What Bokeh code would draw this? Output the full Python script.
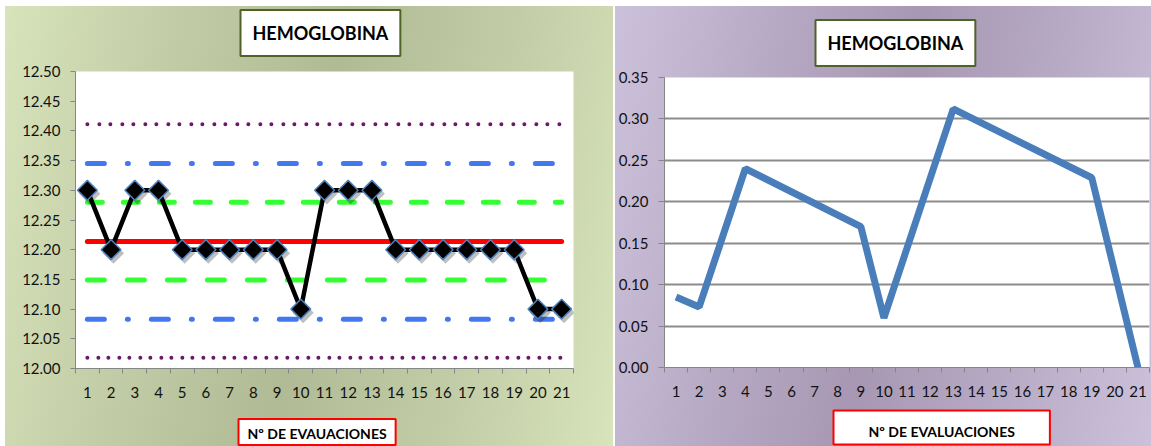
from bokeh.plotting import figure
from bokeh.layouts import row, column
from bokeh.models import FixedTicker, Range1d, ColumnDataSource, Title
from bokeh.transform import dodge
from bokeh.embed import file_html
from bokeh.resources import INLINE

# ---------------- data ----------------
evaluaciones = list(range(1, 22))
hemoglobina = [12.3, 12.2, 12.3, 12.3, 12.2, 12.2, 12.2, 12.2, 12.2, 12.1, 12.3,
               12.3, 12.3, 12.2, 12.2, 12.2, 12.2, 12.2, 12.2, 12.1, 12.1]
media = 12.214
sd1_sup, sd1_inf = 12.280, 12.149
sd2_sup, sd2_inf = 12.345, 12.083
sd3_sup, sd3_inf = 12.411, 12.018
y_ticks_left = [12.00, 12.05, 12.10, 12.15, 12.20, 12.25, 12.30, 12.35, 12.40, 12.45, 12.50]

rango_eval = [1, 2, 4, 9, 10, 13, 19, 21]
rango_movil = [0.085, 0.073, 0.240, 0.170, 0.060, 0.312, 0.229, 0.0]
y_ticks_right = [0.00, 0.05, 0.10, 0.15, 0.20, 0.25, 0.30, 0.35]

FONT = "Lato"
x_ticks = evaluaciones
x_bounds = [i + 0.5 for i in range(0, 22)]


def style_axes(p, yticks, fmt):
    p.xaxis.ticker = FixedTicker(ticks=x_ticks, minor_ticks=x_bounds)
    p.yaxis.ticker = FixedTicker(ticks=yticks, minor_ticks=[])
    p.yaxis.major_label_overrides = {t: fmt.format(t) for t in yticks}
    for ax in (p.xaxis[0], p.yaxis[0]):
        ax.axis_line_color = "#868686"
        ax.axis_line_width = 1
        ax.major_label_text_font = FONT
        ax.major_label_text_font_size = "15px"
        ax.major_label_text_color = "#111111"
    p.xaxis.major_tick_line_color = None
    p.xaxis.major_tick_out = 0
    p.xaxis.major_tick_in = 0
    p.xaxis.minor_tick_line_color = "#868686"
    p.xaxis.minor_tick_out = 5
    p.xaxis.minor_tick_in = 0
    p.xaxis.major_label_standoff = 13
    p.yaxis.major_tick_line_color = "#868686"
    p.yaxis.major_tick_out = 5
    p.yaxis.major_tick_in = 0
    p.yaxis.minor_tick_line_color = None
    p.yaxis.major_label_standoff = 10


def boxed_title(text, size, border, offset, standoff, padding):
    return Title(text=text, align="left", offset=offset, standoff=standoff,
                 text_font=FONT, text_font_style="bold", text_font_size=size,
                 text_color="black", background_fill_color="white",
                 border_line_color=border, border_line_width=2, padding=padding)


# ---------------- left chart ----------------
p1 = figure(frame_width=498, frame_height=297, output_backend="svg", toolbar_location=None,
            x_range=Range1d(0.5, 21.5), y_range=Range1d(12.0, 12.5),
            min_border_left=70, min_border_right=40, min_border_top=0, min_border_bottom=0)
p1.background_fill_color = "white"
p1.border_fill_alpha = 0
p1.outline_line_color = None
p1.grid.visible = False
p1.styles = {"background": "linear-gradient(#ffffff, #ffffff) 0 0 / 100% 14px no-repeat, "
                           "linear-gradient(100deg, #d8e4bc 0%, #c2cca6 25%, #b0ba94 50%, #c2cca6 75%, #d8e4bc 100%)"}
p1.margin = (-8, 2, -16, 5)
style_axes(p1, y_ticks_left, "{:.2f}")

first, last = evaluaciones[0], evaluaciones[-1]
p1.line([first, last], [sd3_sup] * 2, line_color="#6b1a6b", line_width=4,
        line_dash="0 12 0 11", line_cap="round")
p1.line([first, last], [sd3_inf] * 2, line_color="#6b1a6b", line_width=4,
        line_dash="0 11 0 10", line_cap="round")
p1.line([first, last], [sd2_sup] * 2, line_color="#4178f0", line_width=5,
        line_dash="17 23 1 23", line_cap="round")
p1.line([first, last], [sd2_inf] * 2, line_color="#4178f0", line_width=5,
        line_dash="17 23 1 23", line_cap="round")
p1.line([first, last], [sd1_sup] * 2, line_color="#33ff33", line_width=5,
        line_dash="15 21", line_cap="round")
p1.line([first, last], [sd1_inf] * 2, line_color="#33ff33", line_width=5,
        line_dash="17 23", line_cap="round")
p1.line([first, last], [media] * 2, line_color="#ff0000", line_width=5, line_cap="round")

src = ColumnDataSource(dict(x=evaluaciones, y=hemoglobina))
p1.line("x", "y", source=src, line_color="black", line_width=4.5)
p1.scatter(x=dodge("x", 0.1, range=p1.x_range), y=dodge("y", -0.006, range=p1.y_range),
           source=src, marker="square", angle=0.785398, size=15,
           fill_color="black", fill_alpha=0.25, line_color=None)
p1.scatter("x", "y", source=src, marker="square", angle=0.785398, size=14,
           fill_color="black", line_color="#4f81bd", line_width=1.5)

p1.add_layout(boxed_title("HEMOGLOBINA", "18px", "#4f6228", 165, 31, 12), "above")
p1.add_layout(boxed_title("Nº DE EVAUACIONES", "14px", "#ff0000", 163, 33,
                          dict(left=9, right=9, top=6, bottom=3)), "below")

# ---------------- right chart ----------------
p2 = figure(frame_width=485, frame_height=290, output_backend="svg", toolbar_location=None,
            x_range=Range1d(0.5, 21.5), y_range=Range1d(0.0, 0.35),
            min_border_left=48, min_border_right=3, min_border_top=0, min_border_bottom=0)
p2.background_fill_color = "white"
p2.border_fill_alpha = 0
p2.outline_line_color = None
p2.xgrid.visible = False
p2.ygrid.grid_line_color = "#8c8c8c"
p2.ygrid.grid_line_width = 2
p2.ygrid.ticker = FixedTicker(ticks=y_ticks_right)
p2.styles = {"background": "linear-gradient(100deg, #ccc1da 0%, #b8abc6 25%, #a797b3 50%, #b8abc6 75%, #ccc1da 100%)"}
p2.margin = (6, 0, -8, 0)
style_axes(p2, y_ticks_right, "{:.2f}")
p2.yaxis.major_tick_out = 6

p2.line(rango_eval, rango_movil, line_color="#4a7ebb", line_width=7)

p2.add_layout(boxed_title("HEMOGLOBINA", "18px", "#4f6228", 151, 23, 12), "above")
p2.add_layout(boxed_title("Nº DE EVALUACIONES", "14px", "#ff0000", 169, 18,
                          dict(left=35, right=35, top=12, bottom=5)), "below")

layout = row(column(p1), column(p2), height=446, styles={"overflow": "hidden"})
open("out.html", "w").write(file_html(layout, INLINE))
